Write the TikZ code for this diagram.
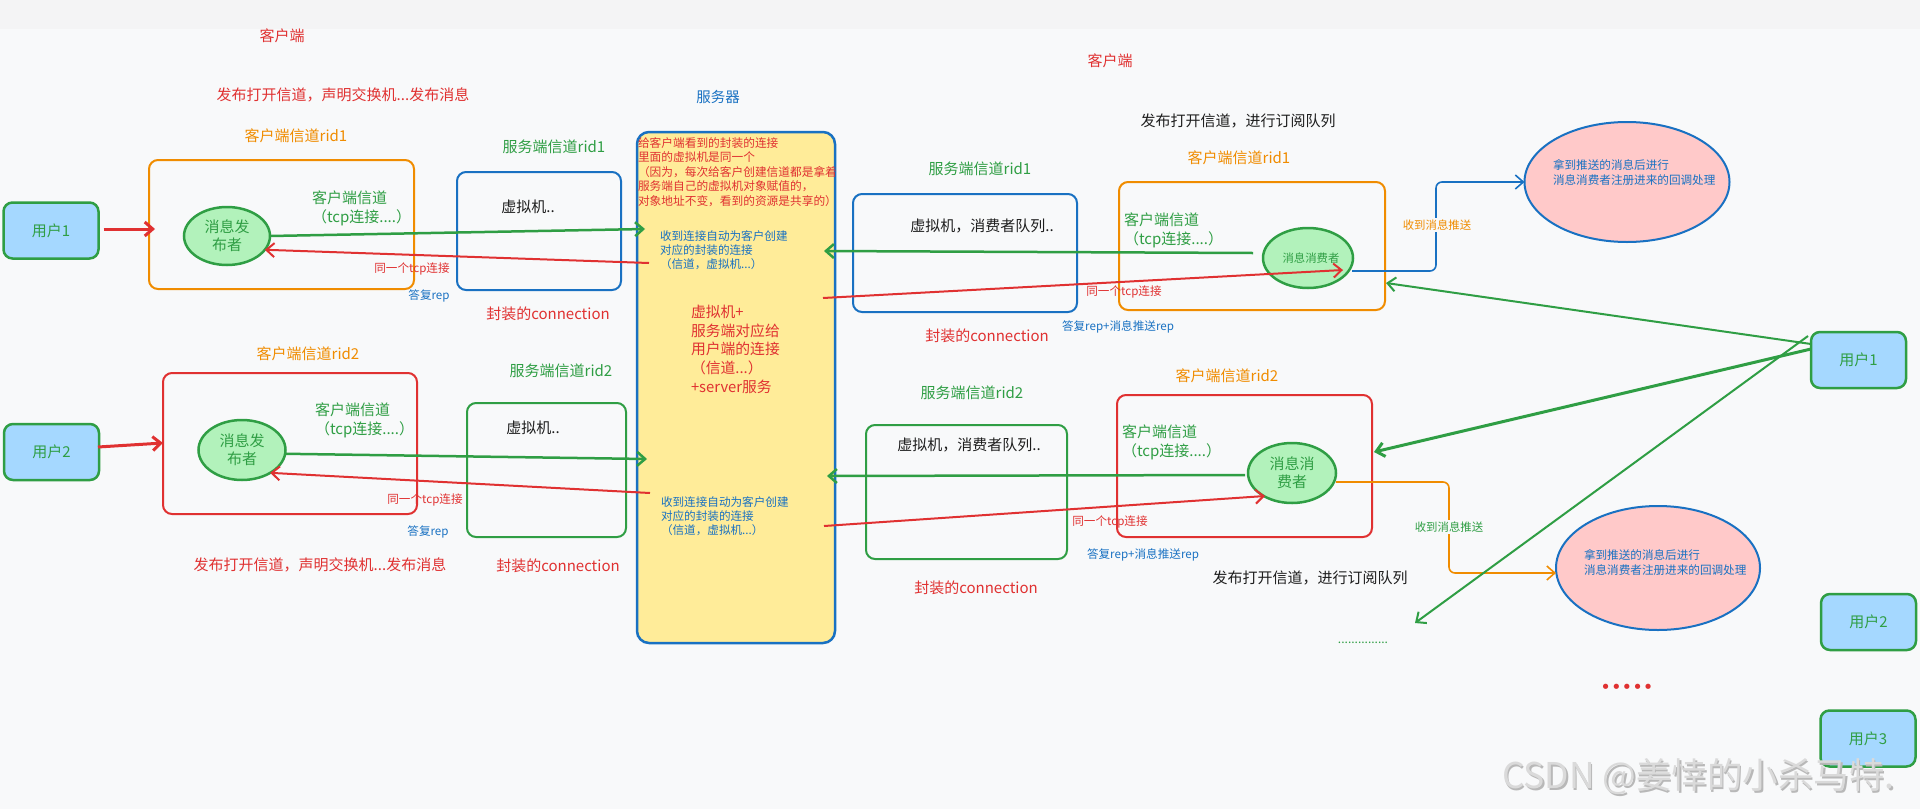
\documentclass[tikz,border=0pt]{standalone}
\usepackage{fontspec}
\setmainfont{Noto Sans CJK SC}
\newfontfamily\dotfont{DejaVu Sans}
\usetikzlibrary{arrows.meta,shapes.geometric,calc}
\definecolor{cred}{HTML}{E03131}
\definecolor{cgreen}{HTML}{2F9E44}
\definecolor{cblue}{HTML}{1971C2}
\definecolor{corange}{HTML}{F08C00}
\definecolor{cuser}{HTML}{A5D8FF}
\definecolor{cbub}{HTML}{B2F2BB}
\definecolor{cyellow}{HTML}{FFEC99}
\definecolor{cpink}{HTML}{FFC9C9}
\definecolor{cink}{HTML}{1E1E1E}
\definecolor{cbg}{HTML}{F8F9FA}
\definecolor{ctop}{HTML}{F4F4F5}
\definecolor{cwm}{HTML}{DADADA}
\definecolor{cwms}{HTML}{B8B8B8}
\newcommand{\fsz}[2]{\fontsize{#1pt}{#2pt}\selectfont}
\begin{document}
\begin{tikzpicture}[x=1pt,y=-1pt,
  every node/.style={inner sep=0pt, outer sep=0pt},
  lbl/.style={font=\fsz{15}{19}},
  sml/.style={font=\fsz{11.6}{14.5}},
  blk/.style={align=left, anchor=north west},
  user/.style={draw=cgreen, fill=cuser, line width=2.5pt, rounded corners=9pt, minimum width=95pt, minimum height=56pt, text=cgreen, font=\fsz{15}{19}},
  boxframe/.style={draw, line width=2pt, rounded corners=9pt},
  bubble/.style={ellipse, draw=cgreen, fill=cbub, line width=2.5pt, text=cgreen, align=center, font=\fsz{15}{18}},
  cloud/.style={ellipse, draw=cblue, fill=cpink, line width=2pt},
  arr/.style={line width=2pt, -{Straight Barb[length=8pt,width=14pt]}},
  tag/.style={fill=cbg, inner sep=1.5pt, font=\fsz{11.4}{14}},
]
\fill[cbg] (0,0) rectangle (1920,809);
\fill[ctop] (0,0) rectangle (1920,29);
\useasboundingbox (0,0) rectangle (1920,809);

% users
\node[user] (u1) at (51,230.5) {用户1};
\node[user] (u2) at (51.5,452) {用户2};
\node[user] (u1r) at (1858.5,360) {用户1};
\node[user] (u2r) at (1868.5,622) {用户2};
\node[user] (u3r) at (1868,738.5) {用户3};

% frames
\node[boxframe, draw=corange, minimum width=265pt, minimum height=129pt] (cb1) at (281.5,224.5) {};
\node[boxframe, draw=cred, minimum width=254pt, minimum height=141pt] (cb2) at (290,443.5) {};
\node[boxframe, draw=cblue, minimum width=164pt, minimum height=118pt] (sb1) at (539,231) {};
\node[boxframe, draw=cgreen, minimum width=159pt, minimum height=134pt] (sb2) at (546.5,470) {};
\node[draw=cblue, fill=cyellow, line width=2.5pt, rounded corners=12pt, minimum width=198pt, minimum height=511pt] (srv) at (736,387.5) {};
\node[boxframe, draw=cblue, minimum width=224pt, minimum height=118pt] (sb1r) at (965,253) {};
\node[boxframe, draw=cgreen, minimum width=201pt, minimum height=134pt] (sb2r) at (966.5,492) {};
\node[boxframe, draw=corange, minimum width=266pt, minimum height=128pt] (cb1r) at (1252,246) {};
\node[boxframe, draw=cred, minimum width=255pt, minimum height=142pt] (cb2r) at (1244.5,466) {};

% bubbles and clouds
\node[bubble, minimum width=86pt, minimum height=58pt] (pub1) at (227,236) {消息发\\布者};
\node[bubble, minimum width=87pt, minimum height=60pt] (pub2) at (242,450) {消息发\\布者};
\node[bubble, minimum width=90pt, minimum height=60pt, font=\fsz{11.4}{14}] (con1) at (1308,258) {\hspace{6pt}消息消费者};
\node[bubble, minimum width=88pt, minimum height=60pt] (con2) at (1292,473) {消息消\\费者};
\node[cloud, minimum width=205pt, minimum height=120pt] (pk1) at (1627,182) {};
\node[cloud, minimum width=204pt, minimum height=124pt] (pk2) at (1658,568) {};

\coordinate (more) at (1415,623);

% connectors, left side
\draw[arr, cred, line width=3pt] ($(u1.east)+(5,-1.5)$) -- ($(cb1.west)+(6,4.5)$);
\draw[arr, cred, line width=3pt] ($(u2.east)+(-1,-5)$) -- ($(cb2.west)+(0,-0.5)$);
\draw[arr, cgreen, line width=2.5pt] (pub1.east) -- ($(srv.north west)+(8,97)$);
\draw[arr, cred] ($(srv.north west)+(12,131)$) -- (pub1.-20);
\draw[arr, cgreen, line width=2.5pt] (pub2.-5) -- ($(srv.north west)+(10,327)$);
\draw[arr, cred] ($(srv.north west)+(13,361)$) -- (pub2.-39);

% connectors, right side
\draw[arr, cgreen, line width=2.5pt] ($(con1.west)+(-10,-5)$) -- ($(srv.north east)+(-11,119)$);
\draw[arr, cred] ($(srv.north east)+(-12,166)$) -- ($(con1.center)+(35,12)$);
\draw[arr, cgreen, line width=2.5pt] ($(con2.west)+(-3,2)$) -- ($(srv.north east)+(-8,344)$);
\draw[arr, cred] ($(srv.north east)+(-11,394)$) -- ($(con2.center)+(-27,23)$);
\draw[arr, cblue, line width=1.6pt, rounded corners=6pt] ($(con1.center)+(44,13)$) -- ++(84,0) |- (pk1.west);
\draw[arr, corange, line width=1.6pt, rounded corners=6pt] ($(con2.center)+(44,9)$) -- ++(113,0) |- ($(pk2.west)+(0,5)$);
\draw[arr, cgreen] ($(u1r.west)+(0,-16)$) -- ($(cb1r.east)+(1,37)$);
\draw[arr, cgreen, line width=3pt] ($(u1r.west)+(0,-11)$) -- ($(cb2r.east)+(2,-14)$);
\draw[arr, cgreen] ($(u1r.west)+(-3,-24)$) -- (more);

\node[tag, text=corange] (recv1) at (1437,225) {收到消息推送};
\node[tag, text=cgreen] (recv2) at (1449,527) {收到消息推送};

% labels, left side
\node[lbl, text=cred] (cliL) at (282,36) {客户端};
\node[lbl, text=cred] (pubTop) at (343,95) {发布打开信道，声明交换机...发布消息};
\node[lbl, text=corange] (crid1) at (296,136) {客户端信道rid1};
\node[lbl, text=cgreen] (srid1) at (554,147) {服务端信道rid1};
\node[lbl, text=cink] (vm1) at (528,207) {虚拟机..};
\node[lbl, blk, text=cgreen] (tcp1) at (312,191) {客户端信道\\（tcp连接....）};
\node[sml, text=cred] (same1) at (412,269) {同一个tcp连接};
\node[sml, text=cblue] (rep1) at (429,296) {答复rep};
\node[lbl, text=cred] (conn1) at (548,314) {封装的connection};
\node[lbl, text=corange] (crid2) at (308,354) {客户端信道rid2};
\node[lbl, text=cgreen] (srid2) at (561,371) {服务端信道rid2};
\node[lbl, text=cink] (vm2) at (533,428) {虚拟机..};
\node[lbl, blk, text=cgreen] (tcp2) at (315,403) {客户端信道\\（tcp连接....）};
\node[sml, text=cred] (same2) at (425,500) {同一个tcp连接};
\node[sml, text=cblue] (rep2) at (428,532) {答复rep};
\node[lbl, text=cred] (pubBot) at (320,565) {发布打开信道，声明交换机...发布消息};
\node[lbl, text=cred] (conn2) at (558,566) {封装的connection};

% server texts
\node[font=\fsz{14.5}{18}, text=cblue] (srvT) at (718,97) {服务器};
\node[blk, font=\fsz{11.7}{14.5}, text=cred] (srvA) at (638,137.5) {给客户端看到的封装的连接\\里面的虚拟机是同一个\\（因为，每次给客户创建信道都是拿着\\服务端自己的虚拟机对象赋值的，\\对象地址不变，看到的资源是共享的）};
\node[blk, font=\fsz{11.6}{14}, text=cblue] (srvB) at (660,230.8) {收到连接自动为客户创建\\对应的封装的连接\\（信道，虚拟机...）};
\node[blk, font=\fsz{14.8}{18.7}, text=cred] (srvC) at (691,305) {虚拟机+\\服务端对应给\\用户端的连接\\（信道...）\\+server服务};
\node[blk, font=\fsz{11.6}{14}, text=cblue] (srvD) at (661,496.8) {收到连接自动为客户创建\\对应的封装的连接\\（信道，虚拟机...）};

% labels, right side
\node[lbl, text=cred] (cliR) at (1110,61) {客户端};
\node[lbl, text=cink] (subTop) at (1238,121) {发布打开信道，进行订阅队列};
\node[lbl, text=corange] (crid1r) at (1239,158) {客户端信道rid1};
\node[lbl, text=cgreen] (srid1r) at (980,169) {服务端信道rid1};
\node[lbl, text=cink] (vm1r) at (982,226) {虚拟机，消费者队列..};
\node[lbl, blk, text=cgreen] (tcp1r) at (1124,213) {客户端信道\\（tcp连接....）};
\node[sml, text=cred] (same1r) at (1124,292) {同一个tcp连接};
\node[sml, text=cblue] (rep1r) at (1118,327) {答复rep+消息推送rep};
\node[lbl, text=cred] (conn1r) at (987,336) {封装的connection};
\node[lbl, text=corange] (crid2r) at (1227,376) {客户端信道rid2};
\node[lbl, text=cgreen] (srid2r) at (972,393) {服务端信道rid2};
\node[lbl, text=cink] (vm2r) at (969,445) {虚拟机，消费者队列..};
\node[lbl, blk, text=cgreen] (tcp2r) at (1122,425) {客户端信道\\（tcp连接....）};
\node[sml, text=cred] (same2r) at (1110,522) {同一个tcp连接};
\node[sml, text=cblue] (rep2r) at (1143,555) {答复rep+消息推送rep};
\node[lbl, text=cred] (conn2r) at (976,588) {封装的connection};
\node[lbl, text=cink] (subBot) at (1310,578) {发布打开信道，进行订阅队列};
\node[blk, font=\fsz{11.6}{15}, text=cblue] (pk1T) at (1553,159.8) {拿到推送的消息后进行\\消息消费者注册进来的回调处理};
\node[blk, font=\fsz{11.6}{14.5}, text=cblue] (pk2T) at (1584,549.8) {拿到推送的消息后进行\\消息消费者注册进来的回调处理};
\node[font=\fsz{12}{14}, text=cgreen, anchor=base] (dots) at (1363,643) {...............};
\node[font=\dotfont\fsz{18}{20}, text=cred] (rdots) at (1627,689) {•••••};

% watermark
\node[anchor=west, font=\fsz{35.5}{40}, text=cwms] (wmS) at (1503.5,778.5) {CSDN @姜悻的小杀马特.};
\node[anchor=west, font=\fsz{35.5}{40}, text=cwm] (wm) at (1502,777) {CSDN @姜悻的小杀马特.};
\end{tikzpicture}
\end{document}
